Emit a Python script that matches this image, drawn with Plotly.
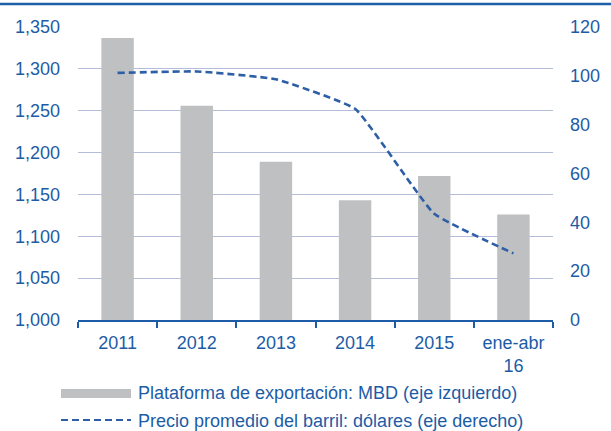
import plotly.graph_objects as go

categories = ["2011", "2012", "2013", "2014", "2015", "ene-abr<br>16"]
plataforma_mbd = [1337, 1256, 1189, 1143, 1172, 1126]
precio_barril = [101.2, 101.8, 98.6, 86.5, 43.5, 27.3]
left_ticks = [1000, 1050, 1100, 1150, 1200, 1250, 1300, 1350]
right_ticks = [0, 20, 40, 60, 80, 100, 120]
legend_labels = ["Plataforma de exportación: MBD (eje izquierdo)",
                 "Precio promedio del barril: dólares (eje derecho)"]

BLUE = "#1c5ca6"
LINE = "#2e5fa6"
GRID = "#b3bdd9"
BAR = "#bfc0c2"
FONT = "Liberation Sans, Arial, sans-serif"
FS = 18

fig = go.Figure()
fig.add_trace(go.Bar(x=categories, y=plataforma_mbd, marker_color=BAR,
                     marker_line_width=0, width=0.41, name=legend_labels[0],
                     showlegend=False, base=0))
fig.add_trace(go.Scatter(x=categories, y=precio_barril, yaxis="y2", mode="lines",
                         line=dict(color=LINE, width=2.6, dash="7px,4px", shape="spline", smoothing=0.35),
                         name=legend_labels[1], showlegend=False))

fig.update_layout(
    width=611, height=431,
    margin=dict(l=78, r=58, t=27, b=111),
    paper_bgcolor="white", plot_bgcolor="white",
    font=dict(family=FONT, size=FS, color=BLUE),
    bargap=0.59,
    xaxis=dict(type="category", showgrid=False, showline=True, linecolor=BLUE, linewidth=2,
               ticks="outside", tickson="boundaries", ticklen=6, tickcolor=BLUE, tickwidth=2,
               tickfont=dict(size=FS, color=BLUE), zeroline=False, ticklabelstandoff=5),
    yaxis=dict(range=[1000, 1350], tickvals=left_ticks, tickformat=",", showgrid=True,
               gridcolor=GRID, gridwidth=1, zeroline=False, showline=False, ticks="",
               tickfont=dict(size=FS, color=BLUE), ticklabelstandoff=17),
    yaxis2=dict(range=[0, 120], tickvals=right_ticks, overlaying="y", side="right",
                showgrid=False, zeroline=False, showline=False, ticks="",
                tickfont=dict(size=FS, color=BLUE), ticklabelstandoff=16),
)

# top rule
fig.add_shape(type="line", xref="paper", yref="paper", x0=-78/475, x1=(475+58)/475,
              y0=1 + 23/293, y1=1 + 23/293, line=dict(color="#1e5fa8", width=2.5))

# custom legend
def py(ypix):
    return (320 - ypix) / 293
def px(xpix):
    return (xpix - 78) / 475

fig.add_shape(type="rect", xref="paper", yref="paper", x0=px(61), x1=px(131),
              y0=py(398), y1=py(389), fillcolor=BAR, line_width=0)
fig.add_shape(type="line", xref="paper", yref="paper", x0=px(61), x1=px(131),
              y0=py(420), y1=py(420), line=dict(color=LINE, width=2.2, dash="7px,4px"))
fig.add_annotation(xref="paper", yref="paper", x=px(136), y=py(393), text=legend_labels[0],
                   showarrow=False, xanchor="left", yanchor="middle", font=dict(size=FS, color=BLUE))
fig.add_annotation(xref="paper", yref="paper", x=px(136), y=py(421), text=legend_labels[1],
                   showarrow=False, xanchor="left", yanchor="middle", font=dict(size=FS, color=BLUE))

fig.write_html("out.html", config={"displayModeBar": False},
               post_script="document.body.style.margin='0';document.body.style.padding='0';document.body.style.overflow='hidden';")
